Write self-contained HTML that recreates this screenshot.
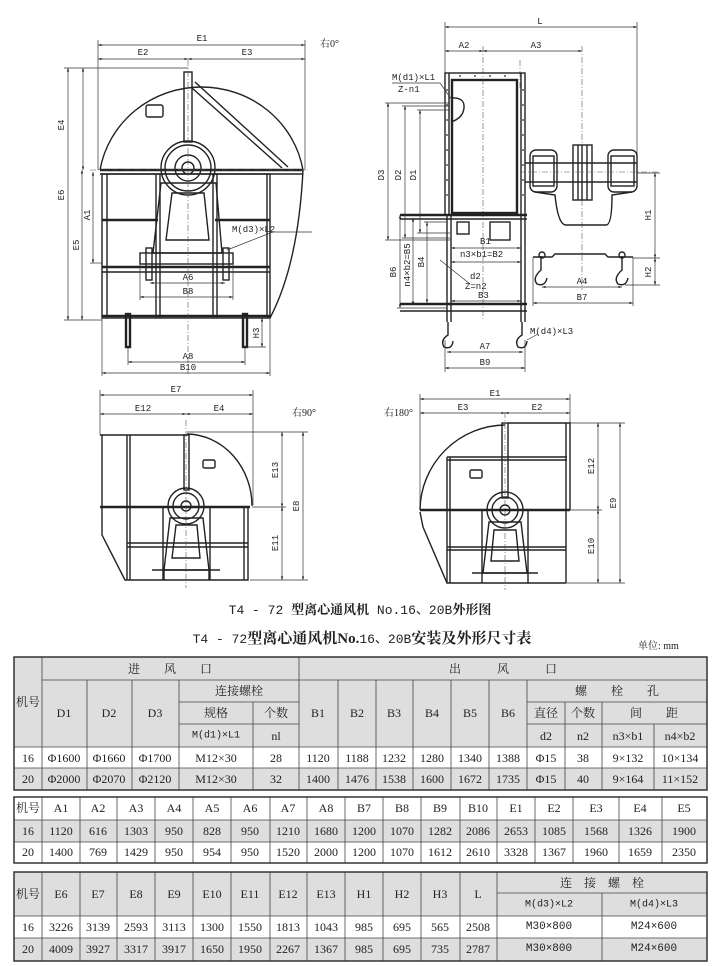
<!DOCTYPE html>
<html><head><meta charset="utf-8"><style>
html,body{margin:0;padding:0;background:#fff}
svg{display:block}
text{font-family:"Liberation Serif","Noto Serif CJK SC",serif;fill:#222}
.t{font-size:12px;text-anchor:middle;dominant-baseline:central}
.s{font-family:"Liberation Mono","Noto Sans CJK SC",monospace;font-size:9px;fill:#222}
.m{stroke:#222;stroke-width:1.4;fill:none}
.b{stroke:#222;stroke-width:2.4;fill:none}
.d{stroke:#333;stroke-width:0.7;fill:none}
.c{stroke:#555;stroke-width:0.6;fill:none;stroke-dasharray:6 2 1 2}
.g{fill:#dedede}
.w{fill:#fff}
.cl{stroke:#444;stroke-width:0.8}
</style></head><body>
<svg width="720" height="966" viewBox="0 0 720 966" xmlns="http://www.w3.org/2000/svg">
<defs>
<marker id="a" viewBox="0 0 6 6" refX="6" refY="3" markerWidth="5" markerHeight="5" orient="auto-start-reverse"><path d="M0,1 L6,3 L0,5z" fill="#222"/></marker>
</defs>

<!-- ============ TOP LEFT VIEW ============ -->
<g>
<!-- dims -->
<line class="d" x1="98" y1="45" x2="305" y2="45" marker-start="url(#a)" marker-end="url(#a)"/>
<line class="d" x1="98" y1="59" x2="188" y2="59" marker-start="url(#a)" marker-end="url(#a)"/>
<line class="d" x1="188" y1="59" x2="305" y2="59" marker-start="url(#a)" marker-end="url(#a)"/>
<line class="d" x1="98" y1="40" x2="98" y2="170"/><line class="d" x1="305" y1="40" x2="305" y2="170"/>
<text x="202" y="41" class="s" text-anchor="middle" font-size="10">E1</text>
<text x="143" y="55" class="s" text-anchor="middle" font-size="10">E2</text>
<text x="247" y="55" class="s" text-anchor="middle" font-size="10">E3</text>
<text x="320" y="47" font-size="10">右0°</text>
<line class="d" x1="68" y1="68" x2="68" y2="320" marker-start="url(#a)" marker-end="url(#a)"/>
<line class="d" x1="83" y1="68" x2="83" y2="170" marker-start="url(#a)" marker-end="url(#a)"/>
<line class="d" x1="82" y1="170" x2="82" y2="320" marker-start="url(#a)" marker-end="url(#a)"/>
<line class="d" x1="93" y1="172" x2="93" y2="263" marker-start="url(#a)" marker-end="url(#a)"/>
<line class="d" x1="64" y1="68" x2="188" y2="68"/><line class="d" x1="64" y1="320" x2="102" y2="320"/>
<line class="d" x1="90" y1="263" x2="102" y2="263"/>
<text class="s" font-size="10" transform="translate(64,125) rotate(-90)" text-anchor="middle">E4</text>
<text class="s" font-size="10" transform="translate(64,195) rotate(-90)" text-anchor="middle">E6</text>
<text class="s" font-size="10" transform="translate(79,245) rotate(-90)" text-anchor="middle">E5</text>
<text class="s" font-size="10" transform="translate(90,215) rotate(-90)" text-anchor="middle">A1</text>
<!-- housing -->
<path class="m" d="M100,170 A103,100 0 0 1 303,170"/>
<path class="m" d="M303,170 C300,230 290,280 270,318"/>
<rect x="146" y="105" width="17" height="12" rx="2" class="m"/>
<line class="b" x1="100" y1="170" x2="303" y2="170"/>
<line class="m" x1="100" y1="174" x2="303" y2="174"/>
<rect x="184" y="72" width="8" height="70" class="m"/>
<line class="m" x1="195" y1="82" x2="288" y2="167"/><line class="m" x1="192" y1="88" x2="282" y2="168"/>
<rect x="102" y="174" width="168" height="144" class="m"/>
<line class="m" x1="107" y1="174" x2="107" y2="318"/><line class="m" x1="267" y1="174" x2="267" y2="318"/>
<line class="m" x1="156" y1="174" x2="156" y2="318"/><line class="m" x1="160" y1="174" x2="160" y2="318"/>
<line class="m" x1="213" y1="174" x2="213" y2="318"/><line class="m" x1="217" y1="174" x2="217" y2="318"/>
<line class="b" x1="102" y1="220" x2="158" y2="220"/><line class="b" x1="215" y1="220" x2="270" y2="220"/>
<line class="b" x1="102" y1="267" x2="270" y2="267"/><line class="m" x1="102" y1="272" x2="270" y2="272"/>
<line class="b" x1="102" y1="316" x2="270" y2="316"/>
<!-- pedestal -->
<path class="m" d="M161,183 L216,183 L222,253 L153,253 Z" fill="#fff"/>
<path class="m" d="M172,193 L204,193 L209,240 L166,240 Z" fill="#fff"/>
<rect x="140" y="253" width="93" height="11" class="m" fill="#fff"/>
<circle cx="188" cy="168" r="27" class="m" fill="#fff"/><circle cx="188" cy="168" r="23" class="m"/>
<circle cx="188" cy="168" r="13" class="m"/><circle cx="188" cy="168" r="6" class="m"/>
<rect x="146" y="248" width="6" height="32" class="m"/><rect x="223" y="248" width="6" height="32" class="m"/>
<line class="c" x1="188" y1="60" x2="188" y2="375"/>
<line class="c" x1="90" y1="170" x2="310" y2="170"/>
<rect x="126" y="314" width="4" height="33" class="b"/><rect x="243" y="314" width="4" height="33" class="b"/>
<line class="d" x1="227" y1="250" x2="273" y2="232"/><line class="d" x1="273" y1="232" x2="312" y2="232"/>
<text x="232" y="232" class="s">M(d3)×L2</text>
<line class="d" x1="150" y1="283" x2="225" y2="283" marker-start="url(#a)" marker-end="url(#a)"/>
<text x="188" y="280" class="s" text-anchor="middle">A6</text>
<line class="d" x1="140" y1="297" x2="233" y2="297" marker-start="url(#a)" marker-end="url(#a)"/>
<text x="188" y="294" class="s" text-anchor="middle">B8</text>
<line class="d" x1="140" y1="264" x2="140" y2="300"/><line class="d" x1="233" y1="264" x2="233" y2="300"/>
<line class="d" x1="128" y1="362" x2="245" y2="362" marker-start="url(#a)" marker-end="url(#a)"/>
<text x="188" y="359" class="s" text-anchor="middle" font-size="10">A8</text>
<line class="d" x1="102" y1="373" x2="270" y2="373" marker-start="url(#a)" marker-end="url(#a)"/>
<text x="188" y="370" class="s" text-anchor="middle" font-size="10">B10</text>
<line class="d" x1="102" y1="318" x2="102" y2="376"/><line class="d" x1="270" y1="318" x2="270" y2="376"/>
<line class="d" x1="128" y1="347" x2="128" y2="365"/><line class="d" x1="245" y1="347" x2="245" y2="365"/>
<line class="d" x1="262" y1="318" x2="262" y2="347" marker-start="url(#a)" marker-end="url(#a)"/>
<line class="d" x1="247" y1="347" x2="266" y2="347"/>
<text class="s" transform="translate(259,333) rotate(-90)" text-anchor="middle">H3</text>
</g>

<!-- ============ TOP RIGHT VIEW ============ -->
<g>
<line class="d" x1="445" y1="27" x2="637" y2="27" marker-start="url(#a)" marker-end="url(#a)"/>
<text x="540" y="24" class="s" text-anchor="middle" font-size="10">L</text>
<line class="d" x1="445" y1="22" x2="445" y2="73"/><line class="d" x1="637" y1="22" x2="637" y2="160"/>
<line class="d" x1="445" y1="51" x2="483" y2="51" marker-start="url(#a)" marker-end="url(#a)"/>
<line class="d" x1="483" y1="51" x2="582" y2="51" marker-start="url(#a)" marker-end="url(#a)"/>
<text x="464" y="48" class="s" text-anchor="middle" font-size="10">A2</text>
<text x="536" y="48" class="s" text-anchor="middle" font-size="10">A3</text>
<line class="c" x1="483" y1="46" x2="483" y2="320"/><line class="c" x1="582" y1="46" x2="582" y2="290"/>
<line class="c" x1="520" y1="60" x2="520" y2="90"/>
<rect x="445" y="73" width="80" height="142" class="m"/>
<rect x="452" y="80" width="65" height="133" class="b"/>
<line class="m" x1="449" y1="73" x2="449" y2="215"/><line class="m" x1="521" y1="73" x2="521" y2="215"/>
<path class="m" d="M451,98 Q465,97 464,108 Q463,118 451,122"/>
<g fill="#222">
<circle cx="447" cy="90" r="0.9"/><circle cx="447" cy="105" r="0.9"/><circle cx="447" cy="120" r="0.9"/><circle cx="447" cy="135" r="0.9"/><circle cx="447" cy="150" r="0.9"/><circle cx="447" cy="165" r="0.9"/><circle cx="447" cy="180" r="0.9"/><circle cx="447" cy="195" r="0.9"/>
<circle cx="523" cy="90" r="0.9"/><circle cx="523" cy="105" r="0.9"/><circle cx="523" cy="120" r="0.9"/><circle cx="523" cy="135" r="0.9"/><circle cx="523" cy="150" r="0.9"/><circle cx="523" cy="165" r="0.9"/><circle cx="523" cy="180" r="0.9"/><circle cx="523" cy="195" r="0.9"/>
<circle cx="460" cy="76" r="0.9"/><circle cx="475" cy="76" r="0.9"/><circle cx="490" cy="76" r="0.9"/><circle cx="505" cy="76" r="0.9"/>
</g>
<!-- lower frame -->
<line class="b" x1="400" y1="215" x2="527" y2="215"/><line class="m" x1="400" y1="219" x2="527" y2="219"/>
<line class="b" x1="400" y1="304" x2="527" y2="304"/><line class="m" x1="400" y1="311" x2="527" y2="311"/>
<line class="m" x1="447" y1="215" x2="447" y2="322"/><line class="m" x1="451" y1="215" x2="451" y2="322"/>
<line class="m" x1="521" y1="215" x2="521" y2="322"/><line class="m" x1="525" y1="215" x2="525" y2="322"/>
<rect x="457" y="222" width="12" height="12" class="m"/><rect x="490" y="222" width="20" height="18" class="m"/>
<path class="m" d="M448,322 L448,335 Q440,340 444,347 Q452,350 453,341"/>
<path class="m" d="M522,322 L522,335 Q514,340 518,347 Q526,350 527,341"/>
<!-- motor side -->
<line class="m" x1="525" y1="163" x2="637" y2="163"/><line class="m" x1="525" y1="182" x2="637" y2="182"/>
<rect x="530" y="150" width="27" height="42" rx="6" class="m" fill="#fff"/>
<rect x="533" y="156" width="21" height="30" class="m"/>
<rect x="608" y="150" width="29" height="42" rx="6" class="m" fill="#fff"/>
<rect x="611" y="156" width="23" height="30" class="m"/>
<rect x="573" y="145" width="19" height="55" class="m" fill="#fff"/>
<line class="m" x1="578" y1="145" x2="578" y2="200"/><line class="m" x1="582" y1="145" x2="582" y2="200"/><line class="m" x1="587" y1="145" x2="587" y2="200"/>
<path class="m" d="M535,192 L555,195 Q558,225 566,225 L606,225 Q612,225 612,195 L632,192"/>
<line class="c" x1="520" y1="172" x2="660" y2="172"/>
<path class="m" d="M533,257 L552,257 L555,254 L605,254 L608,257 L633,257"/>
<path class="m" d="M541,256 L541,270 Q532,278 537,284 Q545,287 547,278"/>
<path class="m" d="M622,256 L622,270 Q613,278 618,284 Q626,287 628,278"/>
<circle cx="542" cy="255" r="3" class="m"/><circle cx="622" cy="255" r="3" class="m"/>
<line class="d" x1="655" y1="173" x2="655" y2="258" marker-start="url(#a)" marker-end="url(#a)"/>
<line class="d" x1="655" y1="258" x2="655" y2="285" marker-start="url(#a)" marker-end="url(#a)"/>
<line class="d" x1="637" y1="173" x2="660" y2="173"/><line class="d" x1="633" y1="258" x2="660" y2="258"/><line class="d" x1="625" y1="285" x2="660" y2="285"/>
<text class="s" font-size="10" transform="translate(651,215) rotate(-90)" text-anchor="middle">H1</text>
<text class="s" font-size="10" transform="translate(651,272) rotate(-90)" text-anchor="middle">H2</text>
<line class="d" x1="542" y1="287" x2="622" y2="287" marker-start="url(#a)" marker-end="url(#a)"/>
<text x="582" y="284" class="s" text-anchor="middle" font-size="10">A4</text>
<line class="d" x1="533" y1="303" x2="633" y2="303" marker-start="url(#a)" marker-end="url(#a)"/>
<text x="582" y="300" class="s" text-anchor="middle" font-size="10">B7</text>
<line class="d" x1="533" y1="257" x2="533" y2="306"/><line class="d" x1="633" y1="257" x2="633" y2="306"/>
<!-- left dims -->
<line class="d" x1="388" y1="103" x2="388" y2="240" marker-start="url(#a)" marker-end="url(#a)"/>
<line class="d" x1="405" y1="106" x2="405" y2="238" marker-start="url(#a)" marker-end="url(#a)"/>
<line class="d" x1="420" y1="110" x2="420" y2="233" marker-start="url(#a)" marker-end="url(#a)"/>
<line class="d" x1="385" y1="103" x2="450" y2="103"/><line class="d" x1="402" y1="106" x2="450" y2="106"/><line class="d" x1="417" y1="110" x2="450" y2="110"/>
<line class="d" x1="385" y1="240" x2="450" y2="240"/><line class="d" x1="402" y1="238" x2="450" y2="238"/><line class="d" x1="417" y1="233" x2="450" y2="233"/>
<text class="s" font-size="10" transform="translate(384,175) rotate(-90)" text-anchor="middle">D3</text>
<text class="s" font-size="10" transform="translate(401,175) rotate(-90)" text-anchor="middle">D2</text>
<text class="s" font-size="10" transform="translate(416,175) rotate(-90)" text-anchor="middle">D1</text>
<line class="d" x1="400" y1="215" x2="400" y2="308" marker-start="url(#a)" marker-end="url(#a)"/>
<line class="d" x1="413" y1="218" x2="413" y2="305" marker-start="url(#a)" marker-end="url(#a)"/>
<line class="d" x1="427" y1="222" x2="427" y2="303" marker-start="url(#a)" marker-end="url(#a)"/>
<line class="d" x1="397" y1="308" x2="447" y2="308"/><line class="d" x1="424" y1="222" x2="447" y2="222"/>
<text class="s" font-size="10" transform="translate(396,272) rotate(-90)" text-anchor="middle">B6</text>
<text class="s" transform="translate(410,265) rotate(-90)" text-anchor="middle">n4×b2=B5</text>
<text class="s" font-size="10" transform="translate(424,262) rotate(-90)" text-anchor="middle">B4</text>
<text x="392" y="80" class="s">M(d1)×L1</text><line class="d" x1="392" y1="83" x2="440" y2="83"/>
<text x="398" y="92" class="s">Z-n1</text><line class="d" x1="440" y1="83" x2="452" y2="100"/>
<text x="480" y="244" class="s">B1</text>
<line class="d" x1="451" y1="248" x2="521" y2="248" marker-start="url(#a)" marker-end="url(#a)"/>
<text x="460" y="257" class="s">n3×b1=B2</text>
<line class="d" x1="451" y1="262" x2="521" y2="262" marker-start="url(#a)" marker-end="url(#a)"/>
<text x="470" y="279" class="s">d2</text><text x="465" y="289" class="s">Z=n2</text>
<line class="d" x1="440" y1="260" x2="470" y2="284"/>
<text x="478" y="298" class="s">B3</text>
<line class="d" x1="451" y1="301" x2="521" y2="301" marker-start="url(#a)" marker-end="url(#a)"/>
<line class="d" x1="527" y1="340" x2="538" y2="334"/>
<text x="530" y="334" class="s">M(d4)×L3</text>
<line class="d" x1="447" y1="352" x2="523" y2="352" marker-start="url(#a)" marker-end="url(#a)"/>
<text x="485" y="349" class="s" text-anchor="middle" font-size="10">A7</text>
<line class="d" x1="445" y1="368" x2="525" y2="368" marker-start="url(#a)" marker-end="url(#a)"/>
<text x="485" y="365" class="s" text-anchor="middle" font-size="10">B9</text>
<line class="d" x1="445" y1="340" x2="445" y2="372"/><line class="d" x1="525" y1="340" x2="525" y2="372"/>
</g>

<!-- ============ BOTTOM LEFT 90 ============ -->
<g>
<line class="d" x1="100" y1="395" x2="253" y2="395" marker-start="url(#a)" marker-end="url(#a)"/>
<line class="d" x1="100" y1="414" x2="186" y2="414" marker-start="url(#a)" marker-end="url(#a)"/>
<line class="d" x1="186" y1="414" x2="253" y2="414" marker-start="url(#a)" marker-end="url(#a)"/>
<line class="d" x1="100" y1="390" x2="100" y2="435"/><line class="d" x1="253" y1="390" x2="253" y2="505"/>
<text x="176" y="392" class="s" text-anchor="middle" font-size="10">E7</text>
<text x="143" y="411" class="s" text-anchor="middle" font-size="10">E12</text>
<text x="219" y="411" class="s" text-anchor="middle" font-size="10">E4</text>
<text x="292" y="416" font-size="10">右90°</text>
<line class="m" x1="100" y1="435" x2="187" y2="435"/>
<path class="m" d="M187,434 A66,72 0 0 1 252,506"/>
<rect x="203" y="460" width="12" height="8" rx="1.5" class="m"/>
<path class="m" d="M102,435 L102,535 L125,580 L248,580 L248,507"/>
<line class="m" x1="127" y1="435" x2="127" y2="580"/><line class="m" x1="130" y1="435" x2="130" y2="580"/>
<rect x="184" y="435" width="5" height="55" class="m"/>
<line class="b" x1="100" y1="507" x2="250" y2="507"/>
<line class="m" x1="127" y1="543" x2="248" y2="543"/><line class="m" x1="127" y1="547" x2="248" y2="547"/>
<line class="m" x1="163" y1="507" x2="163" y2="580"/><line class="m" x1="210" y1="507" x2="210" y2="580"/>
<line class="m" x1="244" y1="507" x2="244" y2="580"/>
<path class="m" d="M170,518 L203,518 L209,570 L164,570 Z" fill="#fff"/>
<path class="m" d="M176,525 L197,525 L200,558 L172,558 Z"/>
<line class="m" x1="152" y1="570" x2="220" y2="570"/><line class="m" x1="164" y1="570" x2="164" y2="580"/><line class="m" x1="209" y1="570" x2="209" y2="580"/>
<circle cx="186" cy="506" r="18" class="m" fill="#fff"/><circle cx="186" cy="506" r="13" class="m"/><circle cx="186" cy="506" r="5" class="m"/>
<line class="c" x1="186" y1="420" x2="186" y2="588"/>
<line class="d" x1="282" y1="432" x2="282" y2="507" marker-start="url(#a)" marker-end="url(#a)"/>
<line class="d" x1="282" y1="507" x2="282" y2="580" marker-start="url(#a)" marker-end="url(#a)"/>
<line class="d" x1="303" y1="432" x2="303" y2="580" marker-start="url(#a)" marker-end="url(#a)"/>
<line class="d" x1="187" y1="432" x2="308" y2="432"/><line class="d" x1="250" y1="580" x2="308" y2="580"/><line class="d" x1="252" y1="507" x2="286" y2="507"/>
<text class="s" font-size="10" transform="translate(278,470) rotate(-90)" text-anchor="middle">E13</text>
<text class="s" font-size="10" transform="translate(278,543) rotate(-90)" text-anchor="middle">E11</text>
<text class="s" font-size="10" transform="translate(299,506) rotate(-90)" text-anchor="middle">E8</text>
</g>

<!-- ============ BOTTOM RIGHT 180 ============ -->
<g>
<line class="d" x1="420" y1="399" x2="570" y2="399" marker-start="url(#a)" marker-end="url(#a)"/>
<line class="d" x1="420" y1="413" x2="505" y2="413" marker-start="url(#a)" marker-end="url(#a)"/>
<line class="d" x1="505" y1="413" x2="570" y2="413" marker-start="url(#a)" marker-end="url(#a)"/>
<line class="d" x1="420" y1="394" x2="420" y2="510"/><line class="d" x1="570" y1="394" x2="570" y2="423"/>
<text x="495" y="396" class="s" text-anchor="middle" font-size="10">E1</text>
<text x="463" y="410" class="s" text-anchor="middle" font-size="10">E3</text>
<text x="537" y="410" class="s" text-anchor="middle" font-size="10">E2</text>
<text x="384" y="416" font-size="10">右180°</text>
<path class="m" d="M505,425 A86,86 0 0 0 420,510"/>
<path class="m" d="M508,423 L570,423 L570,510"/>
<line class="m" x1="566" y1="423" x2="566" y2="583"/>
<line class="m" x1="447" y1="457" x2="567" y2="457"/><line class="m" x1="447" y1="460" x2="567" y2="460"/>
<line class="m" x1="447" y1="457" x2="447" y2="583"/><line class="m" x1="450" y1="457" x2="450" y2="583"/>
<rect x="470" y="470" width="12" height="8" rx="1.5" class="m"/>
<rect x="502" y="423" width="6" height="75" class="m"/>
<line class="b" x1="420" y1="510" x2="570" y2="510"/>
<path class="m" d="M420,512 L423,527 L447,583 L566,583"/>
<line class="m" x1="447" y1="547" x2="566" y2="547"/><line class="m" x1="447" y1="550" x2="566" y2="550"/>
<line class="m" x1="482" y1="510" x2="482" y2="583"/><line class="m" x1="528" y1="510" x2="528" y2="583"/>
<path class="m" d="M489,522 L521,522 L527,573 L483,573 Z" fill="#fff"/>
<path class="m" d="M494,530 L516,530 L519,561 L491,561 Z"/>
<line class="m" x1="472" y1="573" x2="538" y2="573"/>
<circle cx="505" cy="510" r="18" class="m" fill="#fff"/><circle cx="505" cy="510" r="13" class="m"/><circle cx="505" cy="510" r="5" class="m"/>
<line class="c" x1="505" y1="412" x2="505" y2="590"/>
<line class="d" x1="598" y1="423" x2="598" y2="510" marker-start="url(#a)" marker-end="url(#a)"/>
<line class="d" x1="598" y1="510" x2="598" y2="583" marker-start="url(#a)" marker-end="url(#a)"/>
<line class="d" x1="620" y1="423" x2="620" y2="583" marker-start="url(#a)" marker-end="url(#a)"/>
<line class="d" x1="570" y1="423" x2="625" y2="423"/><line class="d" x1="566" y1="583" x2="625" y2="583"/><line class="d" x1="570" y1="510" x2="602" y2="510"/>
<text class="s" font-size="10" transform="translate(594,466) rotate(-90)" text-anchor="middle">E12</text>
<text class="s" font-size="10" transform="translate(594,546) rotate(-90)" text-anchor="middle">E10</text>
<text class="s" font-size="10" transform="translate(616,503) rotate(-90)" text-anchor="middle">E9</text>
</g>

<!-- ============ TITLES ============ -->
<text x="360" y="614" text-anchor="middle" font-size="13"><tspan font-family="Liberation Mono,monospace">T4 - 72 </tspan><tspan font-weight="bold" font-family="Noto Serif CJK SC,serif">型离心通风机</tspan><tspan font-family="Liberation Mono,monospace"> No.16、20B</tspan><tspan font-weight="bold">外形图</tspan></text>
<text x="362" y="643" text-anchor="middle" font-size="15"><tspan font-family="Liberation Mono,monospace" font-size="13">T4 - 72</tspan><tspan font-weight="bold">型离心通风机No.</tspan><tspan font-family="Liberation Mono,monospace" font-size="13">16、20B</tspan><tspan font-weight="bold">安装及外形尺寸表</tspan></text>
<text x="638" y="649" font-size="10">单位: mm</text>

<!-- ============ TABLE 1 ============ -->
<g>
<rect x="14" y="657" width="693" height="90" class="g"/>
<rect x="14" y="747" width="693" height="21" class="w"/>
<rect x="14" y="768" width="693" height="22" class="g"/>
<g class="cl">
<line x1="42" y1="680" x2="707" y2="680"/>
<line x1="179" y1="702" x2="299" y2="702"/><line x1="527" y1="702" x2="707" y2="702"/>
<line x1="179" y1="724" x2="299" y2="724"/><line x1="527" y1="724" x2="707" y2="724"/>
<line x1="14" y1="747" x2="707" y2="747"/><line x1="14" y1="768" x2="707" y2="768"/>
<line x1="42" y1="657" x2="42" y2="790"/><line x1="299" y1="657" x2="299" y2="790"/>
<line x1="87" y1="680" x2="87" y2="790"/><line x1="132" y1="680" x2="132" y2="790"/><line x1="179" y1="680" x2="179" y2="790"/>
<line x1="253" y1="702" x2="253" y2="790"/>
<line x1="338" y1="680" x2="338" y2="790"/><line x1="376" y1="680" x2="376" y2="790"/><line x1="413" y1="680" x2="413" y2="790"/>
<line x1="451" y1="680" x2="451" y2="790"/><line x1="489" y1="680" x2="489" y2="790"/><line x1="527" y1="680" x2="527" y2="790"/>
<line x1="565" y1="702" x2="565" y2="790"/><line x1="602" y1="702" x2="602" y2="790"/><line x1="654" y1="724" x2="654" y2="790"/>
</g>
<rect x="14" y="657" width="693" height="133" fill="none" stroke="#333" stroke-width="1.5"/>
<text class="t" x="28" y="702">机号</text>
<text class="t" x="170" y="669">进　　风　　口</text>
<text class="t" x="503" y="669">出　　　风　　　口</text>
<text class="t" x="64" y="713">D1</text><text class="t" x="109" y="713">D2</text><text class="t" x="155" y="713">D3</text>
<text class="t" x="239" y="691">连接螺栓</text>
<text class="t" x="216" y="713">规格</text><text class="t" x="276" y="713">个数</text>
<text class="t s" x="216" y="736" style="font-size:10px">M(d1)×L1</text><text class="t" x="276" y="736">nl</text>
<text class="t" x="318" y="713">B1</text><text class="t" x="357" y="713">B2</text><text class="t" x="394" y="713">B3</text>
<text class="t" x="432" y="713">B4</text><text class="t" x="470" y="713">B5</text><text class="t" x="508" y="713">B6</text>
<text class="t" x="617" y="691">螺　　栓　　孔</text>
<text class="t" x="546" y="713">直径</text><text class="t" x="583" y="713">个数</text><text class="t" x="654" y="713">间　　距</text>
<text class="t" x="546" y="736">d2</text><text class="t" x="583" y="736">n2</text><text class="t" x="628" y="736">n3×b1</text><text class="t" x="680" y="736">n4×b2</text>
<g font-size="12">
<text class="t" x="28" y="758">16</text><text class="t" x="64" y="758">Φ1600</text><text class="t" x="109" y="758">Φ1660</text><text class="t" x="155" y="758">Φ1700</text>
<text class="t" x="216" y="758">M12×30</text><text class="t" x="276" y="758">28</text>
<text class="t" x="318" y="758">1120</text><text class="t" x="357" y="758">1188</text><text class="t" x="394" y="758">1232</text><text class="t" x="432" y="758">1280</text><text class="t" x="470" y="758">1340</text><text class="t" x="508" y="758">1388</text>
<text class="t" x="546" y="758">Φ15</text><text class="t" x="583" y="758">38</text><text class="t" x="628" y="758">9×132</text><text class="t" x="680" y="758">10×134</text>
<text class="t" x="28" y="779">20</text><text class="t" x="64" y="779">Φ2000</text><text class="t" x="109" y="779">Φ2070</text><text class="t" x="155" y="779">Φ2120</text>
<text class="t" x="216" y="779">M12×30</text><text class="t" x="276" y="779">32</text>
<text class="t" x="318" y="779">1400</text><text class="t" x="357" y="779">1476</text><text class="t" x="394" y="779">1538</text><text class="t" x="432" y="779">1600</text><text class="t" x="470" y="779">1672</text><text class="t" x="508" y="779">1735</text>
<text class="t" x="546" y="779">Φ15</text><text class="t" x="583" y="779">40</text><text class="t" x="628" y="779">9×164</text><text class="t" x="680" y="779">11×152</text>
</g>
</g>

<!-- ============ TABLE 2 ============ -->
<g>
<rect x="14" y="797" width="693" height="23" class="w"/>
<rect x="14" y="820" width="693" height="22" class="g"/>
<rect x="14" y="842" width="693" height="21" class="w"/>
<g class="cl">
<line x1="14" y1="820" x2="707" y2="820"/><line x1="14" y1="842" x2="707" y2="842"/>
<line x1="42" y1="797" x2="42" y2="863"/><line x1="80" y1="797" x2="80" y2="863"/><line x1="117" y1="797" x2="117" y2="863"/>
<line x1="155" y1="797" x2="155" y2="863"/><line x1="193" y1="797" x2="193" y2="863"/><line x1="231" y1="797" x2="231" y2="863"/>
<line x1="270" y1="797" x2="270" y2="863"/><line x1="307" y1="797" x2="307" y2="863"/><line x1="345" y1="797" x2="345" y2="863"/>
<line x1="383" y1="797" x2="383" y2="863"/><line x1="421" y1="797" x2="421" y2="863"/><line x1="460" y1="797" x2="460" y2="863"/>
<line x1="497" y1="797" x2="497" y2="863"/><line x1="535" y1="797" x2="535" y2="863"/><line x1="573" y1="797" x2="573" y2="863"/>
<line x1="619" y1="797" x2="619" y2="863"/><line x1="662" y1="797" x2="662" y2="863"/>
</g>
<rect x="14" y="797" width="693" height="66" fill="none" stroke="#333" stroke-width="1.5"/>
<g>
<text class="t" x="28" y="808">机号</text><text class="t" x="61" y="808">A1</text><text class="t" x="98" y="808">A2</text><text class="t" x="136" y="808">A3</text><text class="t" x="174" y="808">A4</text><text class="t" x="212" y="808">A5</text><text class="t" x="250" y="808">A6</text><text class="t" x="288" y="808">A7</text><text class="t" x="326" y="808">A8</text><text class="t" x="364" y="808">B7</text><text class="t" x="402" y="808">B8</text><text class="t" x="440" y="808">B9</text><text class="t" x="478" y="808">B10</text><text class="t" x="516" y="808">E1</text><text class="t" x="554" y="808">E2</text><text class="t" x="596" y="808">E3</text><text class="t" x="640" y="808">E4</text><text class="t" x="684" y="808">E5</text>
<text class="t" x="28" y="831">16</text><text class="t" x="61" y="831">1120</text><text class="t" x="98" y="831">616</text><text class="t" x="136" y="831">1303</text><text class="t" x="174" y="831">950</text><text class="t" x="212" y="831">828</text><text class="t" x="250" y="831">950</text><text class="t" x="288" y="831">1210</text><text class="t" x="326" y="831">1680</text><text class="t" x="364" y="831">1200</text><text class="t" x="402" y="831">1070</text><text class="t" x="440" y="831">1282</text><text class="t" x="478" y="831">2086</text><text class="t" x="516" y="831">2653</text><text class="t" x="554" y="831">1085</text><text class="t" x="596" y="831">1568</text><text class="t" x="640" y="831">1326</text><text class="t" x="684" y="831">1900</text>
<text class="t" x="28" y="852">20</text><text class="t" x="61" y="852">1400</text><text class="t" x="98" y="852">769</text><text class="t" x="136" y="852">1429</text><text class="t" x="174" y="852">950</text><text class="t" x="212" y="852">954</text><text class="t" x="250" y="852">950</text><text class="t" x="288" y="852">1520</text><text class="t" x="326" y="852">2000</text><text class="t" x="364" y="852">1200</text><text class="t" x="402" y="852">1070</text><text class="t" x="440" y="852">1612</text><text class="t" x="478" y="852">2610</text><text class="t" x="516" y="852">3328</text><text class="t" x="554" y="852">1367</text><text class="t" x="596" y="852">1960</text><text class="t" x="640" y="852">1659</text><text class="t" x="684" y="852">2350</text>
</g>
</g>

<!-- ============ TABLE 3 ============ -->
<g>
<rect x="14" y="872" width="693" height="44" class="g"/>
<rect x="14" y="916" width="693" height="22" class="w"/>
<rect x="14" y="938" width="693" height="23" class="g"/>
<g class="cl">
<line x1="497" y1="893" x2="707" y2="893"/>
<line x1="14" y1="916" x2="707" y2="916"/><line x1="14" y1="938" x2="707" y2="938"/>
<line x1="42" y1="872" x2="42" y2="961"/><line x1="80" y1="872" x2="80" y2="961"/><line x1="117" y1="872" x2="117" y2="961"/>
<line x1="155" y1="872" x2="155" y2="961"/><line x1="193" y1="872" x2="193" y2="961"/><line x1="231" y1="872" x2="231" y2="961"/>
<line x1="270" y1="872" x2="270" y2="961"/><line x1="307" y1="872" x2="307" y2="961"/><line x1="345" y1="872" x2="345" y2="961"/>
<line x1="383" y1="872" x2="383" y2="961"/><line x1="421" y1="872" x2="421" y2="961"/><line x1="460" y1="872" x2="460" y2="961"/>
<line x1="497" y1="872" x2="497" y2="961"/><line x1="602" y1="893" x2="602" y2="961"/>
</g>
<rect x="14" y="872" width="693" height="89" fill="none" stroke="#333" stroke-width="1.5"/>
<text class="t" x="28" y="894">机号</text><text class="t" x="61" y="894">E6</text><text class="t" x="98" y="894">E7</text><text class="t" x="136" y="894">E8</text><text class="t" x="174" y="894">E9</text><text class="t" x="212" y="894">E10</text><text class="t" x="250" y="894">E11</text><text class="t" x="288" y="894">E12</text><text class="t" x="326" y="894">E13</text><text class="t" x="364" y="894">H1</text><text class="t" x="402" y="894">H2</text><text class="t" x="440" y="894">H3</text><text class="t" x="478" y="894">L</text>
<text class="t" x="602" y="883">连　接　螺　栓</text>
<text class="t s" x="549" y="905" style="font-size:10px">M(d3)×L2</text><text class="t s" x="654" y="905" style="font-size:10px">M(d4)×L3</text>
<text class="t" x="28" y="927">16</text><text class="t" x="61" y="927">3226</text><text class="t" x="98" y="927">3139</text><text class="t" x="136" y="927">2593</text><text class="t" x="174" y="927">3113</text><text class="t" x="212" y="927">1300</text><text class="t" x="250" y="927">1550</text><text class="t" x="288" y="927">1813</text><text class="t" x="326" y="927">1043</text><text class="t" x="364" y="927">985</text><text class="t" x="402" y="927">695</text><text class="t" x="440" y="927">565</text><text class="t" x="478" y="927">2508</text>
<text class="t s" x="549" y="927" style="font-size:11px">M30×800</text><text class="t s" x="654" y="927" style="font-size:11px">M24×600</text>
<text class="t" x="28" y="949">20</text><text class="t" x="61" y="949">4009</text><text class="t" x="98" y="949">3927</text><text class="t" x="136" y="949">3317</text><text class="t" x="174" y="949">3917</text><text class="t" x="212" y="949">1650</text><text class="t" x="250" y="949">1950</text><text class="t" x="288" y="949">2267</text><text class="t" x="326" y="949">1367</text><text class="t" x="364" y="949">985</text><text class="t" x="402" y="949">695</text><text class="t" x="440" y="949">735</text><text class="t" x="478" y="949">2787</text>
<text class="t s" x="549" y="949" style="font-size:11px">M30×800</text><text class="t s" x="654" y="949" style="font-size:11px">M24×600</text>
</g>
</svg>
</body></html>
